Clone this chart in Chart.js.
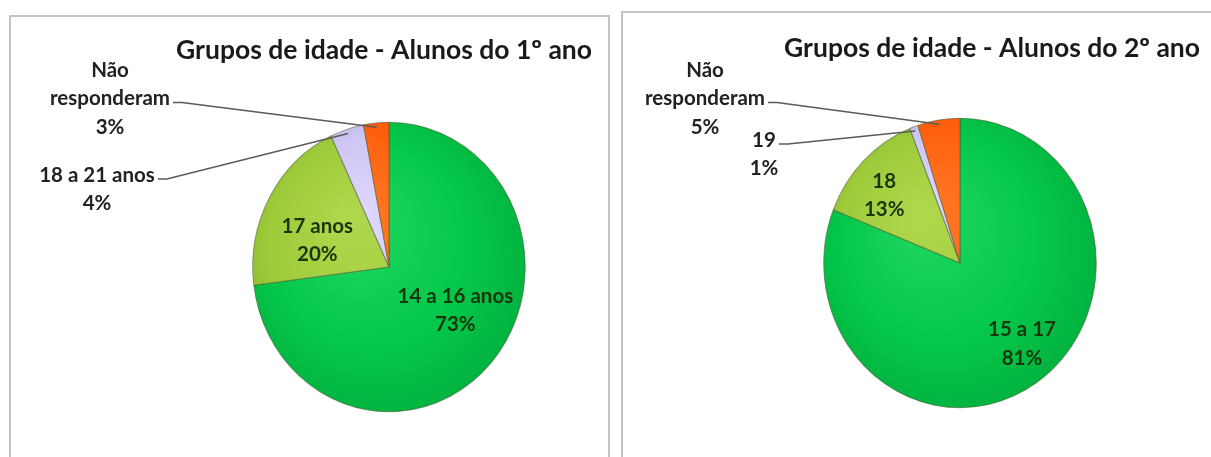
<!DOCTYPE html>
<html><head><meta charset="utf-8">
<script src="https://cdn.jsdelivr.net/npm/chart.js@4"></script>
<style>
html,body{margin:0;padding:0;background:#fff;width:1211px;height:457px;overflow:hidden;}
#wrap{position:relative;width:1211px;height:457px;}
.panel{position:absolute;box-sizing:border-box;border:2px solid #c4c4c4;}
canvas{position:absolute;top:0;}
</style></head><body>
<div id="wrap">
<div class="panel" style="left:9px;top:15px;width:601px;height:470px;"></div>
<div class="panel" style="left:621px;top:11px;width:610px;height:470px;"></div>
<canvas id="c1" width="616" height="457" style="left:0"></canvas>
<canvas id="c2" width="595" height="457" style="left:616px"></canvas>
</div>
<script>
// ---- data ----
const title1 = 'Grupos de idade - Alunos do 1º ano';
const categories1 = ['14 a 16 anos', '17 anos', '18 a 21 anos', 'Não responderam'];
const values1 = [73, 20, 4, 3];

const title2 = 'Grupos de idade - Alunos do 2º ano';
const categories2 = ['15 a 17', '18', '19', 'Não responderam'];
const values2 = [81, 13, 1, 5];

// ---- style ----
const sliceColors = [
  ['#22d862', '#04c84a', '#02ae3d'],
  ['#b2d84e', '#9dcb3a', '#86b32a'],
  ['#e0d9ff', '#cec6f3', '#b0a6dc'],
  ['#ff7a26', '#ff620f', '#ec5200']
];
const FONT = 'Lato, "Open Sans", sans-serif';

function wrapLines(ctx, text, maxW) {
  const words = text.split(' ');
  const lines = [];
  let cur = '';
  for (const w of words) {
    const t = cur ? cur + ' ' + w : w;
    if (cur && ctx.measureText(t).width > maxW) { lines.push(cur); cur = w; }
    else cur = t;
  }
  if (cur) lines.push(cur);
  return lines;
}

function makeChart(id, title, cats, vals, st) {
  const plugin = {
    id: 'excelPie',
    beforeDatasetsDraw(chart) {
      const ctx = chart.ctx;
      const arcs = chart.getDatasetMeta(0).data;
      const a0 = arcs[0];
      const cx = a0.x, cy = a0.y, r = a0.outerRadius;
      arcs.forEach((arc, i) => {
        const c = sliceColors[i];
        const g = ctx.createRadialGradient(cx - 0.3 * r, cy - 0.35 * r, 0, cx - 0.05 * r, cy - 0.05 * r, 1.2 * r);
        g.addColorStop(0, c[0]);
        g.addColorStop(0.6, c[1]);
        g.addColorStop(1, c[2]);
        arc.options.backgroundColor = g;
      });
      ctx.save();
      ctx.translate(cx, cy);
      ctx.scale(st.sx, st.sy);
      ctx.translate(-cx, -cy);
    },
    afterDatasetsDraw(chart) {
      chart.ctx.restore();
    },
    afterDraw(chart) {
      const ctx = chart.ctx;
      const arcs = chart.getDatasetMeta(0).data;
      const total = vals.reduce((a, b) => a + b, 0);
      ctx.save();
      ctx.font = 'bold ' + st.titleSize + 'px ' + FONT;
      ctx.fillStyle = '#1a1a1a';
      ctx.textAlign = 'right';
      ctx.textBaseline = 'middle';
      ctx.fillText(title, st.titleX, st.titleY);

      ctx.font = 'bold ' + st.labelSize + 'px ' + FONT;
      ctx.textAlign = 'center';
      arcs.forEach((arc, i) => {
        const pct = Math.round(vals[i] / total * 100) + '%';
        const lines = wrapLines(ctx, cats[i], 140).concat([pct]);
        const mid = (arc.startAngle + arc.endAngle) / 2;
        const cx = arc.x, cy = arc.y, r = arc.outerRadius;
        const out = st.outside[i];
        if (!out) {
          const nud = st.nudge[i] || [0, 0];
          const lx = cx + Math.cos(mid) * r * 0.6 * st.sx + nud[0];
          const ly = cy + Math.sin(mid) * r * 0.6 * st.sy + nud[1];
          ctx.fillStyle = '#1b360c';
          const y0 = ly - (lines.length - 1) * st.lineH / 2;
          lines.forEach((t, k) => ctx.fillText(t, lx, y0 + k * st.lineH));
        } else {
          ctx.fillStyle = '#222';
          const [lx, ly] = out;
          lines.forEach((t, k) => ctx.fillText(t, lx, ly + k * st.lineH));
          const k = lines.length - 2;
          const w = ctx.measureText(lines[k]).width;
          const sxp = lx + w / 2 + 3, syp = ly + k * st.lineH + 4;
          const ex = cx + Math.cos(mid) * r * 0.97 * st.sx;
          const ey = cy + Math.sin(mid) * r * 0.97 * st.sy;
          ctx.strokeStyle = '#5a5a5a';
          ctx.lineWidth = 1.5;
          ctx.beginPath();
          ctx.moveTo(sxp, syp);
          ctx.lineTo(sxp + 9, syp);
          ctx.lineTo(ex, ey);
          ctx.stroke();
        }
      });
      ctx.restore();
    }
  };
  const el = document.getElementById(id);
  const W = el.width, H = el.height;
  return new Chart(el, {
    type: 'pie',
    data: {
      labels: cats,
      datasets: [{
        data: vals,
        backgroundColor: sliceColors.map(c => c[1]),
        borderColor: 'rgba(70,90,50,0.55)',
        borderWidth: 1,
        hoverOffset: 0
      }]
    },
    options: {
      responsive: false,
      animation: false,
      events: [],
      layout: { padding: { left: st.cx - st.r, right: W - st.cx - st.r, top: st.cy - st.r, bottom: H - st.cy - st.r } },
      plugins: { legend: { display: false }, tooltip: { enabled: false } }
    },
    plugins: [plugin]
  });
}

makeChart('c1', title1, categories1, values1, {
  cx: 389, cy: 267, r: 141, sx: 0.97, sy: 1.03,
  titleX: 592, titleY: 50, titleSize: 26.5, labelSize: 20.5, lineH: 28.5,
  outside: { 2: [97, 175], 3: [110, 70] },
  nudge: { 0: [5, -14], 1: [0, 15] }
});
makeChart('c2', title2, categories2, values2, {
  cx: 344, cy: 263, r: 141, sx: 0.97, sy: 1.03,
  titleX: 584, titleY: 48, titleSize: 26.5, labelSize: 20.5, lineH: 28.5,
  outside: { 2: [148, 140], 3: [89, 70] },
  nudge: { 0: [16, 9], 1: [-18, -6] }
});
</script>
</body></html>
